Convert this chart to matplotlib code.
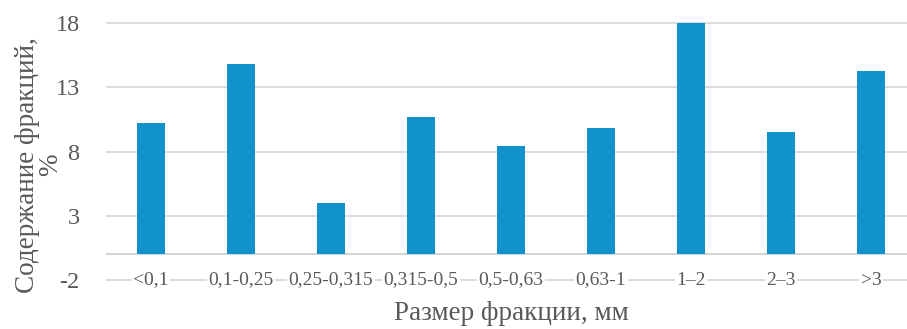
import matplotlib.pyplot as plt
import numpy as np

# данные
categories = ['<0,1', '0,1-0,25', '0,25-0,315', '0,315-0,5', '0,5-0,63',
              '0,63-1', '1–2', '2–3', '>3']
values = [10.2, 14.8, 4.0, 10.7, 8.45, 9.85, 18.0, 9.55, 14.3]
yticks = [-2, 3, 8, 13, 18]

bar_color = '#1192cc'
text_color = '#595959'
grid_color = '#d9d9d9'

plt.rcParams['font.family'] = ['Liberation Serif', 'DejaVu Serif']

fig = plt.figure(figsize=(9.07, 3.29), dpi=100)
ax = fig.add_axes([106 / 907, 1 - 281.3 / 329, 810 / 907, (281.3 - 22.0) / 329])

x = np.arange(len(categories))
ax.bar(x, values, width=0.31, color=bar_color, zorder=3)

ax.set_xlim(-0.5, len(categories) - 0.5)
ax.set_ylim(-2.1, 18.1)
ax.set_yticks(yticks)
ax.set_yticklabels([str(v) for v in yticks], fontsize=17.5, color=text_color)
ax.tick_params(axis='y', length=0, pad=19)
ax.set_xticks([])

for s in ax.spines.values():
    s.set_visible(False)

ax.yaxis.grid(True, color=grid_color, linewidth=1.3, zorder=0)
ax.axhline(0, color='#d0d0d0', linewidth=1.3, zorder=1)

# подписи категорий на линии -2
for xi, lab in zip(x, categories):
    ax.text(xi, -2, lab, ha='center', va='center', fontsize=14, color=text_color,
            bbox=dict(facecolor='white', edgecolor='none', pad=1), zorder=4)

fig.text(511 / 907, 1 - 313 / 329, 'Размер фракции, мм', ha='center', va='center',
         fontsize=19.5, color=text_color)
# подпись оси Y в две строки
fig.text(28 / 907, 1 - 165 / 329, 'Содержание фракций,', ha='center', va='center',
         rotation=90, fontsize=19.5, color=text_color)
fig.text(51 / 907, 1 - 165 / 329, '%', ha='center', va='center',
         rotation=90, fontsize=19.5, color=text_color)

plt.savefig('out.png', dpi=100)
